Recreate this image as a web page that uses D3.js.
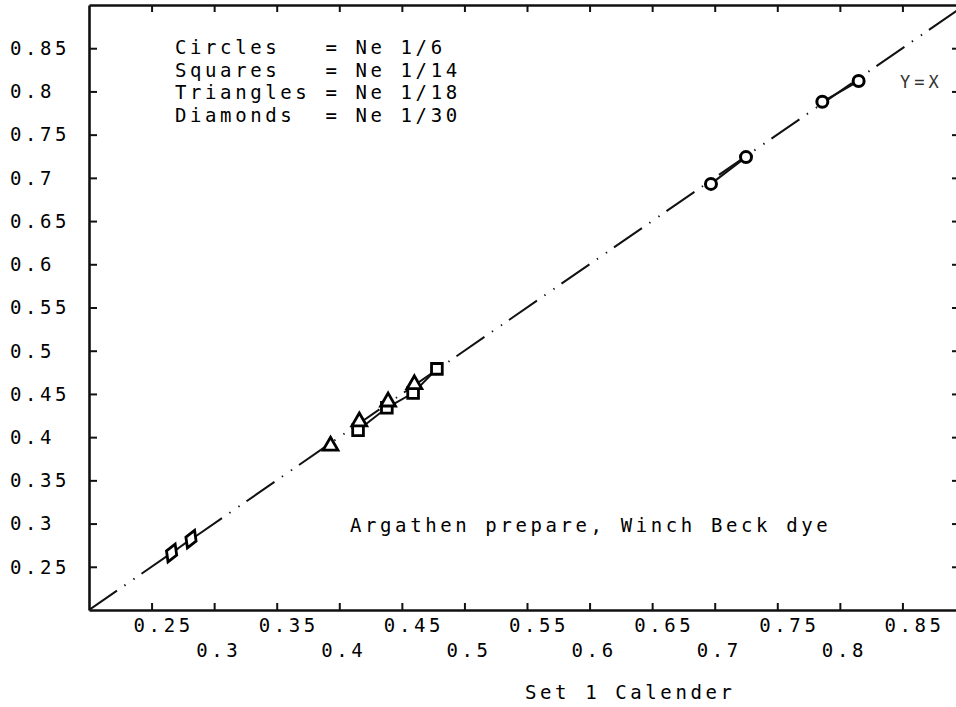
<!DOCTYPE html>
<html>
<head>
<meta charset="utf-8">
<script src="https://cdn.jsdelivr.net/npm/d3@7"></script>
<style>
  html, body { margin: 0; padding: 0; background: #fff; }
  svg { display: block; }
  .txt { font-family: "DejaVu Sans Mono", monospace; font-size: 19px; letter-spacing: 3.6px; fill: #000; white-space: pre; }
</style>
</head>
<body>
<div id="chart"></div>
<script>
// tick values (both axes)
const xTicks = [0.25, 0.3, 0.35, 0.4, 0.45, 0.5, 0.55, 0.6, 0.65, 0.7, 0.75, 0.8, 0.85];
const yTicks = [0.25, 0.3, 0.35, 0.4, 0.45, 0.5, 0.55, 0.6, 0.65, 0.7, 0.75, 0.8, 0.85];

// points; g = pairs joined by a solid segment
const circles = [
  {x: 0.697, y: 0.693, g: 1}, {x: 0.725, y: 0.724, g: 1},
  {x: 0.786, y: 0.788, g: 2}, {x: 0.815, y: 0.812, g: 2}
];
const squares = [
  {x: 0.415, y: 0.408, g: 1}, {x: 0.438, y: 0.434, g: 1},
  {x: 0.459, y: 0.451, g: 1}, {x: 0.478, y: 0.479, g: 1}
];
const triangles = [
  {x: 0.393, y: 0.390, g: 0}, {x: 0.416, y: 0.418, g: 0},
  {x: 0.439, y: 0.441, g: 0}, {x: 0.460, y: 0.461, g: 0}
];
const diamonds = [
  {x: 0.266, y: 0.266, g: 1}, {x: 0.2815, y: 0.282, g: 1}
];

const legendNames = ["Circles", "Squares", "Triangles", "Diamonds"];
const legendValues = ["Ne 1/6", "Ne 1/14", "Ne 1/18", "Ne 1/30"];
const titleText = "Argathen prepare, Winch Beck dye";
const xTitle = "Set 1 Calender";

const width = 956, height = 707;
const svg = d3.select('#chart').append('svg').attr('width', width).attr('height', height);

const x = d3.scaleLinear().domain([0.2, 0.9]).range([89, 965]);
const y = d3.scaleLinear().domain([0.2, 0.9]).range([610, 5]);
const plotLeft = x(0.2), plotRight = 959, plotTop = y(0.9), plotBottom = y(0.2);

// clip for the plotted stuff
svg.append('clipPath').attr('id', 'plot-clip')
  .append('rect').attr('x', plotLeft).attr('y', plotTop)
  .attr('width', plotRight - plotLeft).attr('height', plotBottom - plotTop);

// frame + inward ticks
const axisStyle = g => {
  g.select('.domain').attr('stroke', '#111').attr('stroke-width', 2.6);
  g.selectAll('.tick line').attr('stroke', '#111').attr('stroke-width', 2);
  g.selectAll('.tick text').remove();
};
svg.append('g').attr('transform', `translate(0,${plotBottom})`)
  .call(d3.axisTop(x).tickValues(xTicks).tickSize(7).tickSizeOuter(0)).call(axisStyle);
svg.append('g').attr('transform', `translate(0,${plotTop})`)
  .call(d3.axisBottom(x).tickValues(xTicks).tickSize(7).tickSizeOuter(0)).call(axisStyle);
svg.append('g').attr('transform', `translate(${plotLeft},0)`)
  .call(d3.axisRight(y).tickValues(yTicks).tickSize(8).tickSizeOuter(0)).call(axisStyle);
svg.append('g').attr('transform', `translate(${plotRight},0)`)
  .call(d3.axisLeft(y).tickValues(yTicks).tickSize(7).tickSizeOuter(0)).call(axisStyle);

// y labels, left aligned like the plotter
svg.append('g').selectAll('text').data(yTicks).join('text')
  .attr('class', 'txt').attr('x', 10).attr('y', d => y(d)).attr('dy', '0.36em')
  .text(d => d3.format('.2~f')(d));

// x labels, staggered in two rows
svg.append('g').selectAll('text').data(xTicks).join('text')
  .attr('class', 'txt')
  .attr('x', d => x(d) - 18)
  .attr('y', (d, i) => i % 2 === 0 ? 625 : 650).attr('dy', '0.36em')
  .text(d => d3.format('.2~f')(d));

const plot = svg.append('g').attr('clip-path', 'url(#plot-clip)');

// Y=X reference line, dash-dot-dot
plot.append('line')
  .attr('x1', x(0.2)).attr('y1', y(0.2)).attr('x2', x(0.9)).attr('y2', y(0.9))
  .attr('stroke', '#111').attr('stroke-width', 2)
  .attr('stroke-dasharray', '34 9 1.4 9.6 1.4 8.4');

// solid joins between paired points
const line = d3.line().x(d => x(d.x)).y(d => y(d.y));
[circles, squares, diamonds].forEach(series => {
  d3.groups(series, d => d.g).forEach(([, pts]) => {
    if (pts.length < 2) return;
    plot.append('path').attr('d', line(pts))
      .attr('fill', 'none').attr('stroke', '#111').attr('stroke-width', 2);
  });
});

const markStroke = {fill: '#fff', stroke: '#000', 'stroke-width': 2.8};
const applyStyle = sel => { Object.entries(markStroke).forEach(([k, v]) => sel.attr(k, v)); };

plot.append('g').selectAll('path').data(diamonds).join('path')
  .attr('d', d3.symbol(d3.symbolDiamond, 105))
  .attr('transform', d => `translate(${x(d.x)},${y(d.y)}) rotate(22)`)
  .call(applyStyle);

plot.append('g').selectAll('path').data(squares).join('path')
  .attr('d', d3.symbol(d3.symbolSquare, 115))
  .attr('transform', d => `translate(${x(d.x)},${y(d.y)})`)
  .call(applyStyle);

plot.append('g').selectAll('path').data(triangles).join('path')
  .attr('d', d3.symbol(d3.symbolTriangle, 95))
  .attr('transform', d => `translate(${x(d.x)},${y(d.y)})`)
  .call(applyStyle);

plot.append('g').selectAll('circle').data(circles).join('circle')
  .attr('cx', d => x(d.x)).attr('cy', d => y(d.y)).attr('r', 5.5)
  .call(applyStyle).attr('stroke-width', 3);

// legend block
svg.append('g').selectAll('text').data(legendNames).join('text')
  .attr('class', 'txt').attr('x', 175).attr('y', (d, i) => 47 + i * 22.7).attr('dy', '0.36em')
  .text((d, i) => d.padEnd(10, ' ') + '= ' + legendValues[i]);

svg.append('text').attr('class', 'txt').attr('x', 350).attr('y', 525).attr('dy', '0.36em').text(titleText);
svg.append('text').attr('class', 'txt').attr('x', 900).attr('y', 82).attr('dy', '0.36em')
  .style('font-size', '17px').style('letter-spacing', '4px').style('fill', '#333').text('Y=X');
svg.append('text').attr('class', 'txt').attr('x', 525).attr('y', 692).attr('dy', '0.36em').text(xTitle);
</script>
</body>
</html>
